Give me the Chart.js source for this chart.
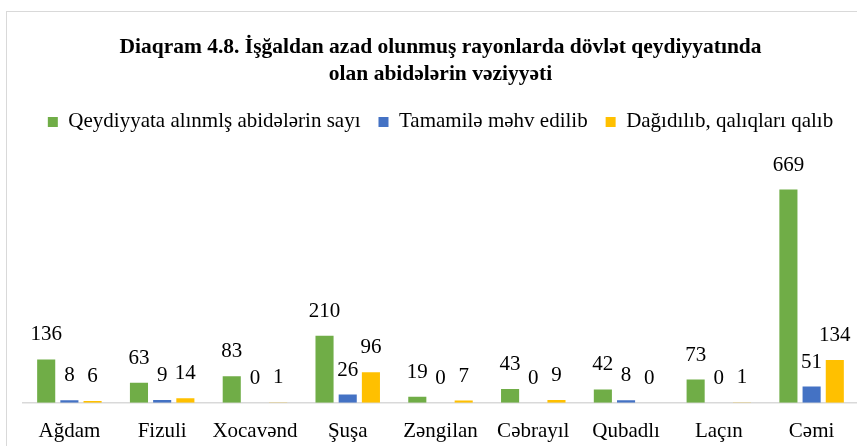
<!DOCTYPE html>
<html>
<head>
<meta charset="utf-8">
<script src="https://cdn.jsdelivr.net/npm/chart.js@4"></script>
<style>
  body { margin: 0; background: #fff; overflow: hidden; }
  #wrap { position: absolute; left: 6px; top: 11px; width: 857px; height: 470px; border: 1px solid #d9d9d9; }
</style>
</head>
<body>
<div id="wrap"><canvas id="diaqram" width="857" height="458"></canvas></div>
<script>
const rayonlar = ["Ağdam", "Fizuli", "Xocavənd", "Şuşa", "Zəngilan", "Cəbrayıl", "Qubadlı", "Laçın", "Cəmi"];
const qeydiyyat = [136, 63, 83, 210, 19, 43, 42, 73, 669];
const mehvEdilib = [8, 9, 0, 26, 0, 0, 8, 0, 51];
const dagidilib = [6, 14, 1, 96, 7, 9, 0, 1, 134];
const seriesNames = ["Qeydiyyata alınmlş abidələrin sayı", "Tamamilə məhv edilib", "Dağıdılıb, qalıqları qalıb"];
const titleLines = ["Diaqram 4.8. İşğaldan azad olunmuş rayonlarda dövlət qeydiyyatında", "olan abidələrin vəziyyəti"];

const serif = "'Liberation Serif', 'DejaVu Serif', serif";

// values drawn above every bar
const barValues = {
    id: "barValues",
    afterDatasetsDraw(chart) {
        const ctx = chart.ctx;
        ctx.save();
        ctx.font = "21px " + serif;
        ctx.fillStyle = "#000";
        ctx.textAlign = "center";
        ctx.textBaseline = "alphabetic";
        chart.data.datasets.forEach((ds, i) => {
            chart.getDatasetMeta(i).data.forEach((bar, j) => {
                ctx.fillText(ds.data[j], bar.x, bar.y - 19);
            });
        });
        ctx.restore();
    }
};

new Chart(document.getElementById("diaqram").getContext("2d"), {
    type: "bar",
    data: {
        labels: rayonlar,
        datasets: [
            { label: seriesNames[0], data: qeydiyyat, backgroundColor: "#70ad47" },
            { label: seriesNames[1], data: mehvEdilib, backgroundColor: "#4472c4" },
            { label: seriesNames[2], data: dagidilib, backgroundColor: "#ffc000" }
        ]
    },
    options: {
        responsive: false,
        animation: false,
        layout: { padding: { left: 16, right: 6, top: 0, bottom: 10 } },
        datasets: { bar: { categoryPercentage: 0.75, barPercentage: 0.78 } },
        plugins: {
            tooltip: { enabled: false },
            title: {
                display: true,
                text: titleLines,
                color: "#000",
                font: { family: serif, size: 21.5, weight: "bold", lineHeight: 1.3 },
                padding: { top: 21, bottom: 4.5 }
            },
            legend: {
                labels: {
                    boxWidth: 10,
                    boxHeight: 10,
                    padding: 18,
                    color: "#000",
                    font: { family: serif, size: 21 }
                }
            }
        },
        scales: {
            y: { display: false, min: 0, max: 817 },
            x: {
                grid: { display: false, drawTicks: false },
                border: { color: "#d9d9d9", width: 1.5 },
                ticks: { color: "#000", padding: 16, font: { family: serif, size: 21 } }
            }
        }
    },
    plugins: [barValues]
});
</script>
</body>
</html>
